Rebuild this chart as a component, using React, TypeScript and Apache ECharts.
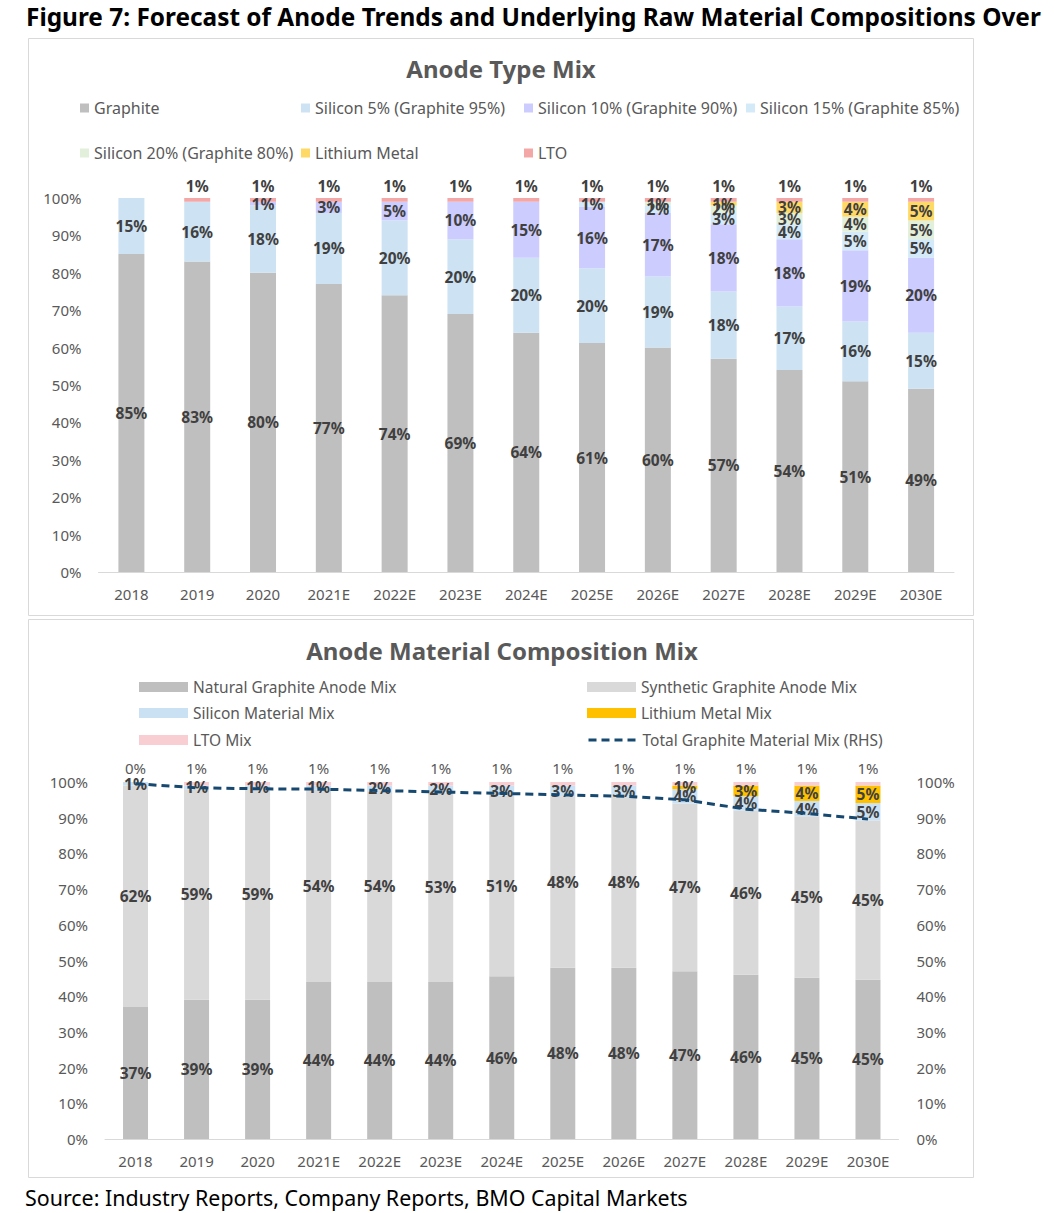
import React, { useEffect, useRef } from "react";
import * as echarts from "echarts";

const years = ["2018", "2019", "2020", "2021E", "2022E", "2023E", "2024E", "2025E", "2026E", "2027E", "2028E", "2029E", "2030E"];
const yTicks = [0, 10, 20, 30, 40, 50, 60, 70, 80, 90, 100];

// Anode Type Mix (%)
const graphite = [85, 83, 80, 77, 74, 69, 64, 61.2, 60, 57, 54, 51, 49];
const silicon5 = [15, 16, 18, 19, 20, 20, 20, 20, 19, 18, 17, 16, 15];
const silicon10 = [0, 0, 1, 3, 5, 10, 15, 16.4, 17, 18, 18, 19, 20];
const silicon15 = [0, 0, 0, 0, 0, 0, 0, 1.4, 2, 3, 4, 5, 5];
const silicon20 = [0, 0, 0, 0, 0, 0, 0, 0, 1, 2, 3, 4, 5];
const lithiumMetal = [0, 0, 0, 0, 0, 0, 0, 0, 0, 1, 3, 4, 5];
const lto = [0, 1, 1, 1, 1, 1, 1, 1, 1, 1, 1, 1, 1];

// Anode Material Composition Mix (%)
const naturalGraphite = [37, 39, 39, 44, 44, 44, 45.6, 48, 48, 47, 46, 45.2, 44.6];
const syntheticGraphite = [62, 59, 59, 54, 53.5, 53, 50.6, 48, 48, 47, 46, 45.2, 44.6];
const siliconMaterial = [1, 1, 1, 1, 1.5, 2, 2.8, 3, 3, 4, 4, 4.3, 4.9];
const lithiumMetalMix = [0, 0, 0, 0, 0, 0, 0, 0, 0, 1, 3, 4.3, 4.9];
const ltoMix = [0, 1, 1, 1, 1, 1, 1, 1, 1, 1, 1, 1, 1];
const totalGraphiteMix = [99.5, 98.4, 98.1, 98, 97.6, 97.2, 96.8, 96.4, 96, 95, 92.4, 91.2, 89.6];

const FONT = '"Noto Sans", "Open Sans", sans-serif';
const GREY_TEXT = "#595959";
const LABEL_DARK = "#404040";

function measure(text: string, font: string): number {
  const ctx = document.createElement("canvas").getContext("2d");
  if (!ctx) return 0;
  ctx.font = font;
  return ctx.measureText(text).width;
}

export default function App() {
  const ref = useRef<HTMLDivElement>(null);

  useEffect(() => {
    document.body.style.margin = "0";
    if (!ref.current) return;
    const chart = echarts.init(ref.current, null, { renderer: "svg" });

    const figTitle = "Figure 7: Forecast of Anode Trends and Underlying Raw Material Compositions Over";
    const figFont = `bold 25px ${FONT}`;
    const figW = measure(figTitle, figFont) || 1015;
    const figScale = 1015 / figW;

    const srcText = "Source: Industry Reports, Company Reports, BMO Capital Markets";
    const srcFont = `21px ${FONT}`;
    const srcW = measure(srcText, srcFont) || 663;
    const srcScale = 663 / srcW;

    const pctInside = (p: any) => (p.value > 0 ? Math.round(p.value) + "%" : "");

    const barLabel = {
      show: true,
      position: "inside",
      formatter: pctInside,
      color: LABEL_DARK,
      fontWeight: "bold",
      fontSize: 15.5,
      fontFamily: FONT,
    };

    const topColors = ["#BFBFBF", "#CDE3F3", "#CCCCFF", "#D4EAF9", "#E2EFDA", "#FFD966", "#F4A7A7"];
    const topNames = [
      "Graphite",
      "Silicon 5% (Graphite 95%)",
      "Silicon 10% (Graphite 90%)",
      "Silicon 15% (Graphite 85%)",
      "Silicon 20% (Graphite 80%)",
      "Lithium Metal",
      "LTO",
    ];
    const topData = [graphite, silicon5, silicon10, silicon15, silicon20, lithiumMetal, lto];
    const topLegendPos = [
      [80, 108],
      [301, 108],
      [524, 108],
      [746, 108],
      [80, 153],
      [301, 153],
      [524, 153],
    ];

    const botNames = [
      "Natural Graphite Anode Mix",
      "Synthetic Graphite Anode Mix",
      "Silicon Material Mix",
      "Lithium Metal Mix",
      "LTO Mix",
    ];
    const botColors = ["#BFBFBF", "#D9D9D9", "#CAE1F3", "#FFC000", "#F9CED3"];
    const botData = [naturalGraphite, syntheticGraphite, siliconMaterial, lithiumMetalMix, ltoMix];
    const lineName = "Total Graphite Material Mix (RHS)";
    const botLegendPos: [string, number, number][] = [
      [botNames[0], 139, 687],
      [botNames[1], 587, 687],
      [botNames[2], 139, 713],
      [botNames[3], 587, 713],
      [botNames[4], 139, 740],
      [lineName, 587, 740],
    ];

    const legends: any[] = [];
    topNames.forEach((n, i) => {
      legends.push({
        data: [n],
        left: topLegendPos[i][0],
        top: topLegendPos[i][1] - 9,
        padding: 0,
        icon: "rect",
        itemWidth: 9,
        itemHeight: 9,
        selectedMode: false,
        textStyle: { color: GREY_TEXT, fontSize: 16, fontFamily: FONT, lineHeight: 18 },
      });
    });
    botLegendPos.forEach(([n, x, y]) => {
      const isLine = n === lineName;
      const l: any = {
        data: [n],
        left: x,
        top: y - 9,
        padding: 0,
        itemWidth: 49,
        itemHeight: 10,
        selectedMode: false,
        textStyle: { color: GREY_TEXT, fontSize: 15.5, fontFamily: FONT, lineHeight: 18 },
      };
      if (isLine) {
        l.itemStyle = { opacity: 0 };
        l.lineStyle = { color: "#17486F", width: 3, type: [8, 5] };
      } else {
        l.icon = "rect";
      }
      legends.push(l);
    });

    const series: any[] = [];
    topNames.forEach((n, i) => {
      const isTop = n === "LTO";
      series.push({
        name: n,
        type: "bar",
        stack: "top",
        xAxisIndex: 0,
        yAxisIndex: 0,
        barWidth: 26,
        data: topData[i],
        itemStyle: { color: topColors[i] },
        label: isTop ? { ...barLabel, position: "top", distance: 4 } : barLabel,
      });
    });
    botNames.forEach((n, i) => {
      const isTop = n === "LTO Mix";
      series.push({
        name: n,
        type: "bar",
        stack: "bottom",
        xAxisIndex: 1,
        yAxisIndex: 1,
        barWidth: 25,
        data: botData[i],
        itemStyle: { color: botColors[i] },
        label: isTop
          ? {
              show: true,
              position: "top",
              distance: 7,
              formatter: (p: any) => Math.round(p.value) + "%",
              color: GREY_TEXT,
              fontSize: 15,
              fontFamily: FONT,
            }
          : barLabel,
      });
    });
    series.push({
      name: lineName,
      type: "line",
      xAxisIndex: 1,
      yAxisIndex: 2,
      data: totalGraphiteMix,
      symbol: "none",
      z: 10,
      lineStyle: { color: "#17486F", width: 3, type: [8, 5] },
      itemStyle: { color: "#17486F" },
    });

    const yAxisBase = {
      type: "value",
      min: 0,
      max: 100,
      interval: 10,
      axisLine: { show: false },
      axisTick: { show: false },
      splitLine: { show: false },
      axisLabel: {
        formatter: (v: number) => (yTicks.includes(v) ? v + "%" : ""),
        color: GREY_TEXT,
        fontSize: 15,
        fontFamily: FONT,
        margin: 17,
      },
    };
    const xAxisBase = {
      type: "category",
      data: years,
      axisTick: { show: false },
      axisLine: { show: true, lineStyle: { color: "#D9D9D9", width: 1 } },
      axisLabel: { color: GREY_TEXT, fontSize: 15, fontFamily: FONT, margin: 14, interval: 0 },
    };

    const option: any = {
      animation: false,
      backgroundColor: "#FFFFFF",
      textStyle: { fontFamily: FONT },
      grid: [
        { left: 98.5, top: 198, width: 855.5, height: 374 },
        { left: 105, top: 782, width: 793.5, height: 357 },
      ],
      xAxis: [
        { ...xAxisBase, gridIndex: 0 },
        { ...xAxisBase, gridIndex: 1 },
      ],
      yAxis: [
        { ...yAxisBase, gridIndex: 0 },
        { ...yAxisBase, gridIndex: 1 },
        {
          ...yAxisBase,
          gridIndex: 1,
          position: "right",
          axisLabel: { ...yAxisBase.axisLabel, margin: 18 },
        },
      ],
      legend: legends,
      series,
      graphic: [
        {
          type: "rect",
          shape: { x: 28.5, y: 38.5, width: 945, height: 577 },
          style: { fill: "none", stroke: "#D9D9D9", lineWidth: 1 },
          silent: true,
        },
        {
          type: "rect",
          shape: { x: 28.5, y: 619.5, width: 945, height: 558 },
          style: { fill: "none", stroke: "#D9D9D9", lineWidth: 1 },
          silent: true,
        },
        {
          type: "text",
          x: 26,
          y: 16,
          scaleX: figScale,
          style: {
            text: figTitle,
            fontSize: 25,
            fontWeight: "bold",
            fontFamily: FONT,
            fill: "#000000",
            textAlign: "left",
            textVerticalAlign: "middle",
          },
        },
        {
          type: "text",
          x: 501,
          y: 68,
          style: {
            text: "Anode Type Mix",
            fontSize: 24,
            fontWeight: "bold",
            fontFamily: FONT,
            fill: GREY_TEXT,
            textAlign: "center",
            textVerticalAlign: "middle",
          },
        },
        {
          type: "text",
          x: 502,
          y: 650,
          style: {
            text: "Anode Material Composition Mix",
            fontSize: 24,
            fontWeight: "bold",
            fontFamily: FONT,
            fill: GREY_TEXT,
            textAlign: "center",
            textVerticalAlign: "middle",
          },
        },
        {
          type: "text",
          x: 25,
          y: 1198,
          scaleX: srcScale,
          style: {
            text: srcText,
            fontSize: 21,
            fontFamily: FONT,
            fill: "#000000",
            textAlign: "left",
            textVerticalAlign: "middle",
          },
        },
      ],
    };

    chart.setOption(option);
    return () => chart.dispose();
  }, []);

  return <div ref={ref} style={{ width: 1055, height: 1213 }} />;
}
